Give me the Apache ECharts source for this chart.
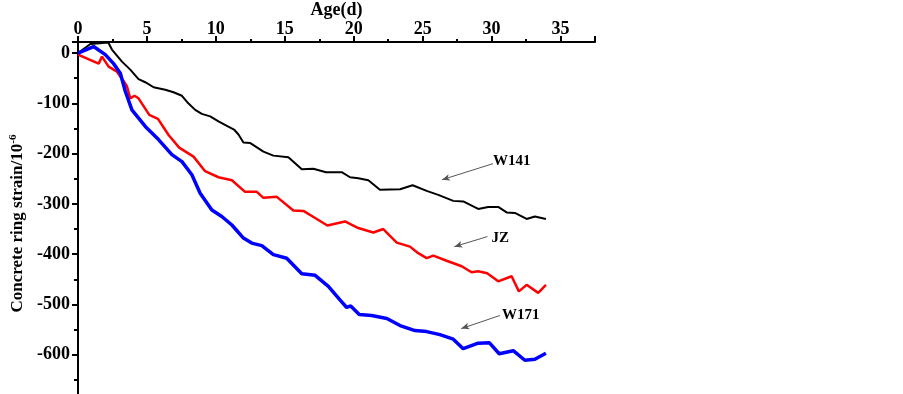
<!DOCTYPE html>
<html>
<head>
<meta charset="utf-8">
<script src="https://cdn.jsdelivr.net/npm/echarts@6/dist/echarts.min.js"></script>
<style>
  html, body { margin: 0; padding: 0; background: #ffffff; }
  #main { width: 903px; height: 394px; }
</style>
</head>
<body>
<div id="main"></div>
<script>
  // 数据
  var w141Age = [0, 0.9, 2.2, 2.46, 3.19, 3.79, 4.39, 4.88, 5.48, 6.33, 6.93, 7.54, 8.0, 8.5, 8.98, 9.59, 10.19, 10.8, 11.35, 11.64, 12.0, 12.5, 13.45, 14.17, 15.26, 16.23, 17.07, 17.99, 19.13, 19.73, 20.33, 21.06, 21.9, 23.36, 24.27, 25.29, 26.13, 27.22, 27.94, 29.03, 29.75, 30.48, 31.09, 31.69, 32.54, 33.14, 33.94];
  var w141Strain = [0, 18, 21, 7, -17, -33, -52, -58, -68, -73, -78, -85, -100, -113, -121, -126, -136, -145, -153, -162, -178, -179, -196, -204, -207, -231, -230, -237, -237, -247, -249, -253, -272, -271, -263, -274, -282, -294, -295, -310, -306, -306, -317, -318, -330, -325, -330];

  var jzAge = [0, 1.5, 1.74, 2.22, 2.83, 3.31, 3.55, 3.79, 4.1, 4.39, 5.17, 5.8, 6.57, 7.34, 8.38, 9.22, 10.19, 11.16, 12.12, 12.97, 13.45, 14.42, 15.62, 16.35, 17.2, 18.09, 19.37, 20.33, 21.42, 22.14, 23.12, 24.08, 24.68, 25.29, 25.77, 26.74, 27.83, 28.55, 29.03, 29.68, 30.48, 31.45, 31.98, 32.54, 33.38, 33.94];
  var jzStrain = [-3, -21, -7, -27, -37, -56, -66, -90, -85, -90, -123, -131, -163, -188, -206, -235, -247, -253, -276, -276, -288, -286, -313, -314, -328, -343, -335, -348, -357, -350, -377, -385, -398, -408, -403, -413, -424, -436, -434, -438, -454, -444, -474, -461, -477, -461];

  var w171Age = [0, 1.13, 1.98, 2.58, 3.07, 3.43, 3.91, 4.88, 5.84, 6.81, 7.54, 8.26, 8.86, 9.71, 10.43, 11.16, 12.0, 12.6, 13.33, 14.17, 15.14, 16.23, 17.2, 18.16, 19.0, 19.49, 19.78, 20.4, 21.3, 22.4, 23.36, 24.44, 25.29, 26.25, 27.22, 27.94, 29.03, 29.83, 30.55, 31.57, 32.41, 33.14, 33.94];
  var w171Strain = [0, 13, -3, -21, -40, -76, -113, -146, -172, -202, -216, -242, -279, -312, -325, -342, -368, -378, -383, -401, -408, -439, -442, -464, -491, -506, -503, -520, -522, -528, -542, -552, -554, -560, -569, -588, -577, -576, -598, -592, -611, -609, -597];

  var seriesNames = ['W141', 'JZ', 'W171'];
  // 标注：文字位置和箭头（数据坐标）
  var labelPos = [[30.1, -215], [30.0, -369], [30.75, -522]];
  var arrowFrom = [[30.1, -220], [29.7, -365], [30.6, -522]];
  var arrowTo = [[26.4, -252], [27.3, -385], [27.8, -548]];

  function zip(a, b) {
    return a.map(function (v, i) { return [v, b[i]]; });
  }

  var font = '"Times New Roman", "Liberation Serif", serif';
  var myChart = echarts.init(document.getElementById('main'));

  function arrow(i) {
    return {
      silent: true,
      animation: false,
      symbol: ['none', 'arrow'],
      symbolSize: [5, 8],
      label: {show: false},
      lineStyle: {color: '#555555', width: 1, type: 'solid'},
      data: [[{coord: arrowFrom[i]}, {coord: arrowTo[i]}]]
    };
  }

  myChart.setOption({
    animation: false,
    grid: {
      left: 78,
      right: 308,
      top: 42,
      bottom: -11,
      containLabel: false,
      outerBoundsMode: 'none'
    },
    xAxis: {
      type: 'value',
      position: 'top',
      min: 0,
      max: 37.5,
      interval: 5,
      name: 'Age(d)',
      nameLocation: 'middle',
      nameGap: 23,
      nameMoveOverlap: false,
      nameTextStyle: {fontFamily: font, fontWeight: 'bold', fontSize: 18, color: '#000'},
      axisLine: {onZero: false, lineStyle: {color: '#000', width: 2}},
      axisTick: {length: 6, lineStyle: {color: '#000', width: 2}},
      minorTick: {show: true, splitNumber: 2, length: 3, lineStyle: {color: '#000', width: 2}},
      splitLine: {show: false},
      axisLabel: {
        margin: 4,
        fontFamily: font, fontWeight: 'bold', fontSize: 18, color: '#000',
        showMaxLabel: false
      }
    },
    yAxis: {
      type: 'value',
      min: -700,
      max: 22,
      interval: 100,
      name: '{a|Concrete ring strain/10}{s|-6}',
      nameLocation: 'middle',
      nameRotate: 90,
      nameGap: 48,
      nameTextStyle: {
        rich: {
          a: {fontFamily: font, fontWeight: 'bold', fontSize: 17, color: '#000'},
          s: {fontFamily: font, fontWeight: 'bold', fontSize: 11, color: '#000', verticalAlign: 'top', padding: [0, 0, 8, 0]}
        }
      },
      axisLine: {onZero: false, lineStyle: {color: '#000', width: 2}},
      axisTick: {length: 6, lineStyle: {color: '#000', width: 2}},
      minorTick: {show: true, splitNumber: 2, length: 4, lineStyle: {color: '#000', width: 2}},
      splitLine: {show: false},
      axisLabel: {
        margin: 8,
        fontFamily: font, fontWeight: 'bold', fontSize: 18, color: '#000',
        showMaxLabel: false,
        showMinLabel: false
      }
    },
    series: [
      {
        name: seriesNames[0],
        type: 'line',
        data: zip(w141Age, w141Strain),
        showSymbol: false,
        lineStyle: {color: '#000000', width: 2},
        markLine: arrow(0)
      },
      {
        name: seriesNames[1],
        type: 'line',
        data: zip(jzAge, jzStrain),
        showSymbol: false,
        lineStyle: {color: '#ff0000', width: 2.5},
        markLine: arrow(1)
      },
      {
        name: seriesNames[2],
        type: 'line',
        data: zip(w171Age, w171Strain),
        showSymbol: false,
        lineStyle: {color: '#0000ff', width: 3.5},
        markLine: arrow(2)
      }
    ]
  });

  // 曲线名称
  var texts = seriesNames.map(function (name, i) {
    var p = myChart.convertToPixel({gridIndex: 0}, labelPos[i]);
    return {
      type: 'text',
      x: p[0],
      y: p[1],
      style: {
        text: name,
        fontFamily: font,
        fontWeight: 'bold',
        fontSize: 15,
        fill: '#000',
        verticalAlign: 'middle'
      }
    };
  });
  myChart.setOption({graphic: texts});
</script>
</body>
</html>
